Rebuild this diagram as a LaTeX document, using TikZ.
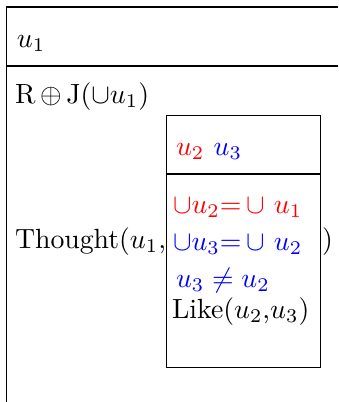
\documentclass[tikz,border=0pt]{standalone}
\usepackage{amssymb}
\begin{document}
\begin{tikzpicture}[x=0.36pt,y=-0.36pt,
  txt/.style={anchor=base west,inner sep=0pt,outer sep=0pt},
  frame/.style={draw=black,line width=0.45pt}]
\useasboundingbox (0,0) rectangle (338,402);
% outer box
\coordinate (otl) at (6.5,7);
\coordinate (otr) at (338,7);
\coordinate (oml) at (6.5,66);
\coordinate (omr) at (338,66);
\coordinate (obl) at (6.5,402);
\draw[frame] (otr) -- (otl) -- (obl);
\draw[frame] (oml) -- (omr);
\node[txt] (u1) at (17,47) {$u_1$};
\node[txt] (rj) at (15,103) {R$\,\oplus\,$J($\cup u_1$)};
% inner box
\node[draw,line width=0.45pt,minimum width=154.5*0.36pt,minimum height=251.5*0.36pt,anchor=north west,inner sep=0pt] (ib) at (165.5,115) {};
\coordinate (idl) at (165.5,174);
\coordinate (idr) at (320,174);
\draw[frame] (idl) -- (idr);
\node[txt] (uu) at (176,155) {\textcolor{red}{$u_2$}\ \textcolor{blue}{$u_3$}};
\node[txt,text=red] (l1) at (173,213) {$\cup u_2$=$\,\cup$ $u_1$};
\node[txt,text=blue] (l2) at (173,250) {$\cup u_3$=$\,\cup$ $u_2$};
\node[txt,text=blue] (l3) at (176,287) {$u_3 \neq u_2$};
\node[txt] (l4) at (172,318) {Like($u_2$,$u_3$)};
\node[txt] (th) at (15,248) {Thought($u_1$,};
\node[txt] (cp) at (322,248) {)};
\end{tikzpicture}
\end{document}
